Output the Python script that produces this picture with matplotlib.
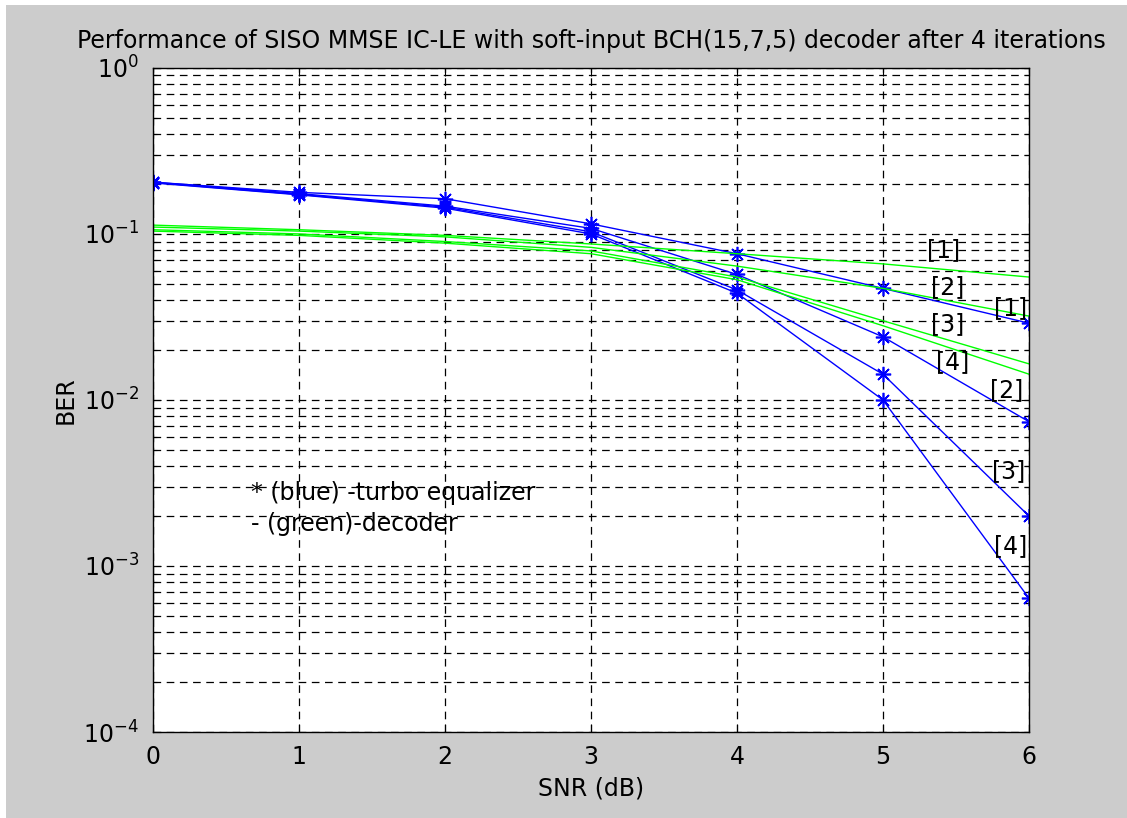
import numpy as np
import matplotlib
matplotlib.use('Agg')
import matplotlib.pyplot as plt
from matplotlib.patches import Rectangle
from matplotlib.ticker import LogLocator, LogFormatterMathtext, NullFormatter

# SNR points (dB)
snr = [0, 1, 2, 3, 4, 5, 6]

# turbo equalizer BER, iterations 1..4 (blue, '*')
te1 = [0.205, 0.178, 0.163, 0.115, 0.076, 0.047, 0.029]
te2 = [0.205, 0.175, 0.147, 0.108, 0.057, 0.024, 0.0074]
te3 = [0.204, 0.173, 0.145, 0.103, 0.046, 0.0143, 0.0020]
te4 = [0.203, 0.172, 0.143, 0.100, 0.044, 0.0100, 0.00064]

# decoder BER, iterations 1..4 (green)
dec1 = [0.113, 0.106, 0.098, 0.087, 0.076, 0.066, 0.055]
dec2 = [0.110, 0.104, 0.096, 0.083, 0.064, 0.047, 0.032]
dec3 = [0.106, 0.100, 0.090, 0.079, 0.055, 0.030, 0.0165]
dec4 = [0.104, 0.098, 0.088, 0.076, 0.053, 0.028, 0.0143]

# iteration tags placed on the plot
tag_x = [5.30, 5.33, 5.76, 5.33, 5.36, 5.73, 5.75, 5.76]
tag_y = [0.080, 0.0477, 0.0358, 0.0285, 0.0169, 0.0115, 0.00374, 0.00132]
tag_txt = ['[1]', '[2]', '[1]', '[3]', '[4]', '[2]', '[3]', '[4]']

title = 'Performance of SISO MMSE IC-LE with soft-input BCH(15,7,5) decoder after 4 iterations'

plt.rcParams['font.family'] = ['DejaVu Sans']
plt.rcParams['lines.scale_dashes'] = False
plt.rcParams['axes.unicode_minus'] = False
plt.rcParams['mathtext.default'] = 'regular'
fs = 17

fig = plt.figure(figsize=(11.27, 8.18), dpi=100, facecolor='white')
fig.patches.append(Rectangle((6 / 1127, 0), 1, 1 - 5 / 818, transform=fig.transFigure,
                             facecolor='#cccccc', edgecolor='none', zorder=-10))
ax = fig.add_axes([0.1358, 0.1051, 0.913 - 0.1358, 0.917 - 0.1051])
ax.set_facecolor('white')

ast = (8, 2, 0)
for ys in (te1, te2, te3, te4):
    ax.semilogy(snr, ys, '-', color='blue', lw=1.0, marker=ast, ms=11, mew=1.2)
for ys in (dec1, dec2, dec3, dec4):
    ax.semilogy(snr, ys, '-', color='#00ff00', lw=1.0)

for x, y, t in zip(tag_x, tag_y, tag_txt):
    ax.text(x, y, t, fontsize=fs, va='center', ha='left')
ax.text(0.67, 0.00275, '* (blue) -turbo equalizer', fontsize=fs, va='center', ha='left')
ax.text(0.67, 0.00178, '- (green)-decoder', fontsize=fs, va='center', ha='left')

ax.set_xlim(0, 6)
ax.set_ylim(1e-4, 1)
ax.set_xticks(snr)
ax.yaxis.set_major_locator(LogLocator(base=10, numticks=10))
ax.yaxis.set_minor_locator(LogLocator(base=10, subs=np.arange(2, 10), numticks=20))
ax.yaxis.set_major_formatter(LogFormatterMathtext())
ax.yaxis.set_minor_formatter(NullFormatter())

dash = (0, (5.5, 4))
ax.grid(True, which='major', color='black', ls=dash, lw=0.9)
ax.grid(True, which='minor', axis='y', color='black', ls=dash, lw=0.9)
ax.tick_params(which='both', direction='in', top=True, right=True, labelsize=fs,
               color='black', width=0.8)
ax.tick_params(which='major', length=6)
ax.tick_params(axis='x', which='major', pad=9)
ax.tick_params(axis='y', which='major', pad=10)
ax.tick_params(which='minor', length=3)
for s in ax.spines.values():
    s.set_linewidth(1.0)
    s.set_color('black')

ax.set_xlabel('SNR (dB)', fontsize=fs, labelpad=6)
ax.set_ylabel('BER', fontsize=fs, labelpad=4)
ax.set_title(title, fontsize=fs, pad=14)

fig.savefig('out.png', dpi=100, facecolor=fig.get_facecolor())
